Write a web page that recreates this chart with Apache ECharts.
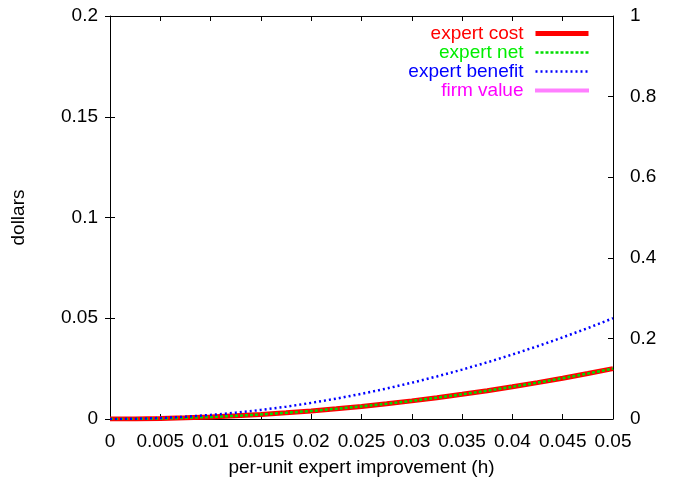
<!DOCTYPE html>
<html><head><meta charset="utf-8">
<script src="https://cdn.jsdelivr.net/npm/echarts@6/dist/echarts.min.js"></script>
<style>html,body{margin:0;padding:0;background:#fff}#c{width:674px;height:479px}</style>
</head><body><div id="c"></div>
<script>
const hValues = [0,0.0025,0.005,0.0075,0.01,0.0125,0.015,0.0175,0.02,0.0225,0.025,0.0275,0.03,0.0325,0.035,0.0375,0.04,0.0425,0.045,0.0475,0.05];
const expertCost = [0,0.00006,0.00025,0.00056,0.001,0.00156,0.00225,0.00306,0.004,0.00506,0.00625,0.00756,0.009,0.01056,0.01225,0.01406,0.016,0.01806,0.02025,0.02256,0.025];
const expertNet = [0,0.00006,0.00025,0.00056,0.001,0.00156,0.00225,0.00306,0.004,0.00506,0.00625,0.00756,0.009,0.01056,0.01225,0.01406,0.016,0.01806,0.02025,0.02256,0.025];
const expertBenefit = [0,0.00012,0.0005,0.00112,0.002,0.00312,0.0045,0.00612,0.008,0.01012,0.0125,0.01512,0.018,0.02112,0.0245,0.02812,0.032,0.03612,0.0405,0.04512,0.05];
const firmValue = [];
const xTicks = [0,0.005,0.01,0.015,0.02,0.025,0.03,0.035,0.04,0.045,0.05];
const leftTicks = [0,0.05,0.1,0.15,0.2];
const rightTicks = [0,0.2,0.4,0.6,0.8,1];

const FONT = 'Liberation Sans';
const FS = 19;
const pair = a => hValues.map((h,i)=>[h,a[i]]);
const fmt = v => String(+v.toFixed(4));
const chart = echarts.init(document.getElementById('c'), null, {renderer:'canvas'});
const tickStyle = {show:true, inside:true, length:5, lineStyle:{color:'#000',width:1}};
const hide = {color:'rgba(0,0,0,0)',borderWidth:0};
const costLine = {color:'#ff0000',width:5};
const netLine = {color:'#00dd00',width:2.5,type:[3,2]};
const benLine = {color:'#0000ff',width:2.5,type:[2,3]};
const firmLine = {color:'#ff00ff',width:4,type:[1,1]};
chart.setOption({
  animation:false,
  textStyle:{fontFamily:FONT},
  grid:{left:110,right:61,top:16,bottom:60,outerBoundsMode:'none',containLabel:false},
  xAxis:[
    {type:'value',position:'bottom',min:xTicks[0],max:xTicks[xTicks.length-1],interval:0.005,
     axisLine:{show:true,onZero:false,lineStyle:{color:'#000',width:1}},axisTick:tickStyle,
     splitLine:{show:false},
     axisLabel:{color:'#000',fontSize:FS,margin:13,formatter:fmt,fontFamily:FONT,showMaxLabel:true,showMinLabel:true,hideOverlap:false},
     name:'per-unit expert improvement (h)',nameLocation:'middle',nameGap:39,
     nameTextStyle:{color:'#000',fontSize:FS,fontFamily:FONT}},
    {type:'value',position:'top',min:xTicks[0],max:xTicks[xTicks.length-1],interval:0.005,
     axisLine:{show:true,onZero:false,lineStyle:{color:'#000',width:1}},axisTick:tickStyle,
     splitLine:{show:false},axisLabel:{show:false}}
  ],
  yAxis:[
    {type:'value',position:'left',min:leftTicks[0],max:leftTicks[leftTicks.length-1],interval:0.05,
     axisLine:{show:true,onZero:false,lineStyle:{color:'#000',width:1}},axisTick:tickStyle,
     splitLine:{show:false},
     axisLabel:{color:'#000',fontSize:FS,margin:12,formatter:fmt,fontFamily:FONT},
     name:'dollars',nameLocation:'middle',nameGap:82,nameRotate:90,
     nameTextStyle:{color:'#000',fontSize:FS,fontFamily:FONT}},
    {type:'value',position:'right',min:rightTicks[0],max:rightTicks[rightTicks.length-1],interval:0.2,
     axisLine:{show:true,onZero:false,lineStyle:{color:'#000',width:1}},axisTick:tickStyle,
     splitLine:{show:false},
     axisLabel:{color:'#000',fontSize:FS,margin:17,formatter:fmt,fontFamily:FONT}},
    {type:'value',position:'right',min:leftTicks[0],max:leftTicks[leftTicks.length-1],interval:0.05,
     axisLine:{show:false},axisTick:tickStyle,splitLine:{show:false},axisLabel:{show:false}}
  ],
  legend:{
    orient:'vertical',right:78,top:19,align:'right',itemWidth:53,itemHeight:8,itemGap:0,
    textStyle:{fontSize:FS,fontFamily:FONT,lineHeight:19,padding:[0,7,0,0]},
    itemStyle:hide,
    data:[
      {name:'expert cost',textStyle:{color:'#ff0000'},itemStyle:hide,lineStyle:costLine},
      {name:'expert net',textStyle:{color:'#00ee00'},itemStyle:hide,lineStyle:netLine},
      {name:'expert benefit',textStyle:{color:'#0000ff'},itemStyle:hide,lineStyle:benLine},
      {name:'firm value',textStyle:{color:'#ff00ff'},itemStyle:hide,lineStyle:firmLine}
    ]
  },
  series:[
    {name:'expert cost',type:'line',xAxisIndex:0,yAxisIndex:0,data:pair(expertCost),showSymbol:false,symbol:'none',
     lineStyle:costLine,itemStyle:{color:'#ff0000'},z:2},
    {name:'expert net',type:'line',xAxisIndex:0,yAxisIndex:0,data:pair(expertNet),showSymbol:false,symbol:'none',
     lineStyle:netLine,itemStyle:{color:'#00dd00'},z:3},
    {name:'expert benefit',type:'line',xAxisIndex:0,yAxisIndex:0,data:pair(expertBenefit),showSymbol:false,symbol:'none',
     lineStyle:benLine,itemStyle:{color:'#0000ff'},z:4},
    {name:'firm value',type:'line',xAxisIndex:0,yAxisIndex:1,data:firmValue,showSymbol:false,symbol:'none',
     lineStyle:firmLine,itemStyle:{color:'#ff00ff'},z:5}
  ]
});
</script></body></html>
